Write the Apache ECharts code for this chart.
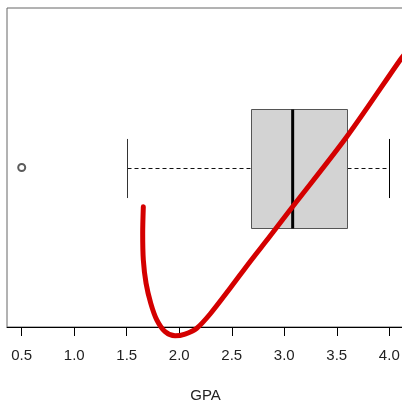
<!DOCTYPE html>
<html>
<head>
<meta charset="utf-8">
<script src="https://cdn.jsdelivr.net/npm/echarts@6/dist/echarts.min.js"></script>
<style>
html, body { margin: 0; padding: 0; background: #fff; }
#chart { width: 402px; height: 401px; }
</style>
</head>
<body>
<div id="chart"></div>
<script>
// five-number summary of GPA (whisker low, Q1, median, Q3, whisker high)
var gpaStats = [1.5, 2.68, 3.08, 3.6, 4.0];
var gpaOutliers = [0.5];
var tickValues = [0.5, 1.0, 1.5, 2.0, 2.5, 3.0, 3.5, 4.0];

// red hand-drawn stroke over the plot
var strokeX = [1.658, 1.652, 1.658, 1.684, 1.729, 1.786, 1.865, 1.96, 2.055, 2.167, 2.294, 2.484, 2.674, 2.865, 3.055, 3.595, 4.103, 4.141];
var strokeY = [0.867, 0.777, 0.687, 0.608, 0.54, 0.484, 0.444, 0.43, 0.436, 0.456, 0.504, 0.591, 0.681, 0.768, 0.856, 1.104, 1.364, 1.381];

var myChart = echarts.init(document.getElementById('chart'));

function px(v) { return Math.round(v) + 0.5; }

var option = {
    animation: false,
    backgroundColor: '#fff',
    textStyle: { fontFamily: 'Liberation Sans, Arial, sans-serif' },
    grid: {
        left: 7, top: 8, width: 397, height: 319,
        outerBoundsMode: 'none',
        containLabel: false,
        show: true, borderColor: '#666', borderWidth: 1
    },
    xAxis: {
        type: 'value',
        min: 0.36,
        max: 4.14,
        name: 'GPA',
        nameLocation: 'middle',
        nameGap: 61,
        nameTextStyle: { fontSize: 15, color: '#222' },
        axisLine: { show: true, lineStyle: { color: '#000', width: 1 } },
        axisTick: { show: true, length: 9, lineStyle: { color: '#000' }, customValues: tickValues },
        axisLabel: {
            fontSize: 15, color: '#222', margin: 21,
            customValues: tickValues,
            formatter: function (v) { return v.toFixed(1); }
        },
        splitLine: { show: false }
    },
    yAxis: {
        type: 'value',
        min: 0.46,
        max: 1.54,
        show: false
    },
    series: [
        {
            type: 'custom',
            data: [[1].concat(gpaStats)],
            encode: { x: [1, 2, 3, 4, 5], y: 0 },
            renderItem: function (params, api) {
                var yc = api.value(0);
                var lo = api.coord([api.value(1), yc]);
                var q1 = api.coord([api.value(2), yc]);
                var med = api.coord([api.value(3), yc]);
                var q3 = api.coord([api.value(4), yc]);
                var hi = api.coord([api.value(5), yc]);
                var boxH = api.size([0, 0.4])[1];
                var capH = api.size([0, 0.2])[1];
                var y = px(lo[1]);
                var xl = px(lo[0]), xh = px(hi[0]), x1 = px(q1[0]), x3 = px(q3[0]);
                var top = px(y - boxH / 2), bot = px(y + boxH / 2);
                return {
                    type: 'group',
                    children: [
                        { type: 'line', shape: { x1: xl, y1: y, x2: x1, y2: y },
                          style: { stroke: '#111', lineWidth: 1, lineDash: [4, 3] } },
                        { type: 'line', shape: { x1: x3, y1: y, x2: xh, y2: y },
                          style: { stroke: '#111', lineWidth: 1, lineDash: [4, 3] } },
                        { type: 'line', shape: { x1: xl, y1: y - capH / 2, x2: xl, y2: y + capH / 2 },
                          style: { stroke: '#333', lineWidth: 1 } },
                        { type: 'line', shape: { x1: xh, y1: y - capH / 2, x2: xh, y2: y + capH / 2 },
                          style: { stroke: '#000', lineWidth: 1 } },
                        { type: 'rect', shape: { x: x1, y: top, width: x3 - x1, height: bot - top },
                          style: { fill: '#d3d3d3', stroke: '#555', lineWidth: 1 } },
                        { type: 'line', shape: { x1: med[0], y1: top, x2: med[0], y2: bot },
                          style: { stroke: '#000', lineWidth: 3 } }
                    ]
                };
            },
            z: 2
        },
        {
            type: 'scatter',
            data: gpaOutliers.map(function (v) { return [v, 1]; }),
            symbol: 'emptyCircle',
            symbolSize: 7,
            itemStyle: { color: '#333', borderColor: '#333', borderWidth: 0.8 },
            z: 3
        },
        {
            type: 'line',
            data: strokeX.map(function (x, i) { return [x, strokeY[i]]; }),
            smooth: 0.3,
            symbol: 'none',
            clip: false,
            lineStyle: { color: '#d40000', width: 5, cap: 'round', join: 'round' },
            z: 10
        }
    ]
};
myChart.setOption(option);
</script>
</body>
</html>
